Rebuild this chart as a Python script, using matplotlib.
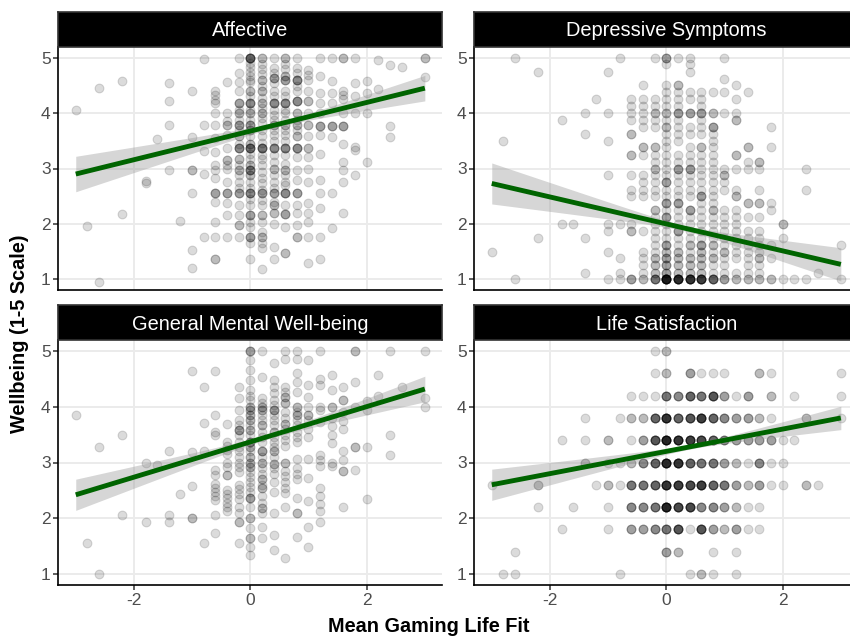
import matplotlib
matplotlib.use("Agg")
import numpy as np
import matplotlib.pyplot as plt

plt.rcParams['font.family'] = ['Liberation Sans', 'DejaVu Sans']

# ---------------- data ----------------
# columns: x value -> y values ("v*n" = n overlapping points)
affective_cols = {
    -3.0: "4.06", -2.8: "1.96", -2.6: "4.46 0.96", -2.2: "4.58 2.17",
    -1.8: "2.74 2.78", -1.6: "3.54", -1.4: "4.55 4.22 3.78 2.97", -1.2: "2.05",
    -1.0: "4.39 3.57 2.97*2 2.56 1.53 1.21",
    -0.8: "4.97 3.78 3.32 2.9 1.77",
    -0.6: "4.39 4.33 4.24 4.18 4.0 3.79 3.55 3.3 3.06 2.97 2.82 2.56*3 2.4 2.04 1.77 1.36*2",
    -0.4: "4.57 4.0 3.85 3.79*2 3.6 3.37 3.15*2 3.06 3.0 2.76 2.56*3 2.37 2.16 1.77",
    -0.2: "5.0 4.72 4.57 4.39 4.18*3 4.06 4.0*2 3.88 3.79*3 3.7 3.58*2 3.45 3.37*4 3.18*2 3.06 "
          "2.97*2 2.88 2.76 2.64 2.56*3 2.34 2.16 1.98*2 1.77",
    0.0: "5.0*6 4.9 4.84 4.75 4.67 4.6 4.57 4.39*2 4.3 4.18*4 4.06 4.0*2 3.88 3.79*3 3.7*2 3.58 "
         "3.45*2 3.37*5 3.27 3.18 3.06*2 2.97*4 2.88*2 2.76 2.64 2.56*4 2.45 2.34 2.16*3 2.04 1.95 "
         "1.77*3 1.65 1.36",
    0.2: "5.0*2 4.88 4.79 4.7 4.6*2 4.48 4.39*2 4.27 4.18*2 4.09 4.0*2 3.91 3.82 3.7 3.58 3.46 "
         "3.37*5 3.24 3.18 3.06 2.94 2.82 2.73 2.61 2.56*3 2.43 2.34 2.16*2 2.04 1.86 1.77*2 1.65 "
         "1.56 1.18",
    0.4: "5.0 4.82 4.73 4.63*3 4.54 4.39 4.3 4.18*4 4.06 3.97 3.88 3.79*2 3.7 3.61 3.49 3.37*4 "
         "3.24 3.12 3.0*2 2.88 2.76 2.64 2.56*3 2.4 2.34*2 2.19*2 2.0 1.59 1.36",
    0.6: "5.0*2 4.88 4.79 4.67*2 4.6*3 4.39 4.3 4.18*4 4.06 4.0 3.88 3.79*2 3.7 3.61 3.49 3.37*4 "
         "3.24 3.09 2.97*2 2.88 2.76 2.7 2.56*4 2.34 2.17*3 1.95 1.47*2",
    0.8: "5.0 4.82 4.73 4.6*4 4.48 4.39 4.21*4 4.0*2 3.88 3.79*2 3.7 3.58*2 3.37*4 3.21 2.97 "
         "2.79 2.56*3 2.34 2.19 1.98 1.77*2",
    1.0: "4.78 4.69 4.6 4.39 4.21*2 4.0 3.79*2 3.58 3.37*2 3.21 3.0 2.76 2.37 2.19 2.04 1.77 1.29",
    1.2: "5.0 4.67 4.37 4.18 4.0 3.77*3 3.6 3.26 2.79 2.56 2.28 1.77 1.36",
    1.4: "5.0 4.58 4.37 4.19 3.77*3 3.57 2.56 1.92",
    1.6: "5.0*2 4.4 4.33 4.26 4.0 3.77*3 3.45 3.12 2.97 2.76 2.2",
    1.8: "5.0 4.55 4.3 4.0 3.39 3.33 2.88",
    2.0: "4.58 4.37 4.0 3.12", 2.2: "4.95 4.43", 2.4: "4.87 3.77 3.57",
    2.6: "4.83", 3.0: "5.0*2 4.66",
}

depressive_cols = {
    -3.0: "1.5", -2.8: "3.5", -2.6: "5.0 1.0", -2.2: "4.75 1.75", -1.8: "3.88 2.0",
    -1.6: "2.0", -1.4: "4.0 3.62 1.75 1.12", -1.2: "4.25",
    -1.0: "4.75 4.0 3.5 2.88 2.0 1.88 1.5 1.0",
    -0.8: "5.0 2.0 1.38 1.12 1.0",
    -0.6: "4.25 4.12 4.0 3.88 3.62*2 3.25*2 2.88 2.62 2.5 2.0 1.88*2 1.0*3",
    -0.4: "4.5 4.25 4.12 4.0 3.88 3.75 3.38*2 3.25 2.88 2.75 2.62 2.5 1.88 1.5 1.38 1.25 1.12 1.0*2",
    -0.2: "5.0 4.25 4.12 4.0*2 3.88 3.75 3.38*2 3.25 3.12 3.0*2 2.88 2.75 2.62 2.5 2.25*2 2.12 2.0 "
          "1.88 1.75 1.62 1.5 1.38*2 1.25*2 1.12*2 1.0*5",
    0.0: "5.0*3 4.88 4.5 4.38 4.25 4.12 4.0*2 3.88 3.75*2 3.62 3.5 3.38 3.25 3.12 3.0 2.88 2.75*3 "
         "2.62 2.5 2.38*3 2.25 2.12*3 2.0 1.88 1.75 1.62*3 1.5*2 1.38*3 1.25*3 1.12*3 1.0*14",
    0.2: "5.0 4.5*2 4.38 4.25 4.12 4.0*3 3.88 3.75 3.62 3.5 3.25 3.12 3.0*3 2.88 2.75 2.62 2.5 "
         "2.38*3 2.25 2.12 2.0 1.88*3 1.75 1.62 1.5*2 1.38*2 1.25*2 1.12*2 1.0*11",
    0.4: "5.0 4.88 4.75 4.38 4.25 4.0*3 3.75 3.62 3.38 3.25 3.12 3.0*3 2.88 2.75 2.62 2.5 2.25*3 "
         "2.12 2.0 1.88 1.75 1.62*2 1.5 1.38*2 1.25*2 1.12*2 1.0*10",
    0.6: "4.38 4.25 4.12 4.0*3 3.88 3.75 3.62 3.38*2 3.25 3.12 3.0 2.88 2.75 2.62 2.5*3 2.38 2.25 "
         "2.12 2.0 1.88 1.75 1.62*3 1.5*2 1.38*2 1.25*2 1.12*2 1.0*9",
    0.8: "4.38 4.0*2 3.75*3 3.62 3.5 3.38 3.25 3.12 3.0 2.88 2.75 2.62 2.5 2.38 2.25*2 2.12 2.0 "
         "1.88 1.75 1.62*2 1.5 1.38*2 1.25 1.12 1.0*6",
    1.0: "5.0 4.62 4.38 4.0 3.0 2.88*2 2.75 2.62 2.25 2.12 2.0 1.88 1.75 1.62 1.5*2 1.38 1.25 1.12 1.0*3",
    1.2: "4.5 4.25 4.0 3.88*2 3.25*2 3.0 2.62 2.5*2 2.25 2.12 2.0 1.88 1.75 1.62 1.5 1.38 1.12 1.0*2",
    1.4: "4.38 3.38*2 3.12 3.0 2.38*2 2.12 1.88 1.75 1.62 1.5 1.38 1.25 1.12 1.0*2",
    1.6: "3.12*2 3.0 2.62 2.38*2 2.12 1.88 1.75 1.62 1.5 1.38*2 1.25 1.12 1.0*2",
    1.8: "3.75 3.38 2.38 2.25 1.62 1.38 1.0*2",
    2.0: "2.0*2 1.75 1.0", 2.2: "1.0", 2.4: "3.0 2.62 1.0", 2.6: "1.12", 3.0: "1.62 1.0",
}

general_cols = {
    -3.0: "3.85", -2.8: "1.56", -2.6: "3.28 1.0", -2.2: "3.49 2.06", -1.8: "3.0 1.93",
    -1.6: "2.96", -1.4: "3.21 2.06 1.93", -1.2: "2.43", -1.0: "4.64 3.18 2.57 2.0*2",
    -0.8: "4.36 3.71 3.21 1.56",
    -0.6: "4.64 3.85 3.55 3.49 2.86 2.78 2.62 2.55 2.47 2.4 2.33 2.06 1.73",
    -0.4: "3.7 3.37 3.3 3.22 3.15 3.0 2.92 2.78*2 2.5 2.43 2.36 2.28 2.2 2.13",
    -0.2: "4.36 4.15 3.94 3.76 3.67 3.58*3 3.49 3.37 3.28 3.2 3.1 3.0 2.92 2.83 2.6 2.52 2.43 "
          "2.35 2.2 2.1 1.94*2 1.55",
    0.0: "5.0*3 4.84 4.66 4.48 4.3 4.2 4.12 4.0*2 3.94*2 3.85*2 3.76*2 3.67 3.58*2 3.49 3.37*3 "
         "3.28*2 3.2 3.1*2 3.0*2 2.92*2 2.83 2.74 2.65 2.56 2.47 2.36*3 2.2 2.0*2 1.82 1.64*2 1.49 1.34",
    0.2: "5.0 4.54 4.15 4.06 4.0*2 3.94*2 3.85 3.76 3.67*2 3.55 3.46 3.37 3.2*3 3.1 3.0*2 2.9 2.8 "
         "2.7*2 2.6 2.54*2 2.4 2.28 2.18*2 2.1 1.85 1.64",
    0.4: "4.78 4.48 4.36 4.24 4.12 4.03 3.94*3 3.85 3.76 3.67 3.55*2 3.46 3.37 3.28 3.2*2 3.1 "
         "2.98*2 2.9 2.8 2.65 2.47 2.09 1.7 1.43",
    0.6: "5.0 4.86 4.36 4.27 4.18*2 4.06*2 3.9 3.8 3.7*2 3.6 3.5 3.4 3.3 3.0*2 2.85 2.75 2.65 2.55 "
         "2.45 2.2 1.28",
    0.8: "5.0 4.86 4.6 4.45 4.27 4.0*2 3.9 3.85*2 3.76 3.67 3.55 3.46 3.37 3.07 2.9 2.8 2.7 2.36 "
         "2.09*2 1.67",
    1.0: "4.84 4.39 4.18 4.0 3.85*2 3.76 3.6 3.46 3.07 2.72 2.3 1.85 1.49",
    1.2: "5.0 4.5 4.4 4.0 3.94 3.73 3.13 3.05 2.93 2.55 2.4 2.25 2.13 1.93",
    1.4: "4.57 4.3 4.0*2 3.8 3.65 3.5 3.35 3.0 2.93",
    1.6: "4.36 4.12*2 3.9 3.75 3.6 3.2 3.05 2.84*2 2.2",
    1.8: "5.0*2 4.45 4.0 3.28*2 2.86",
    2.0: "4.1 3.95 3.28 2.35", 2.2: "4.57 4.2", 2.4: "5.0 3.49 3.13", 2.6: "4.36",
    3.0: "5.0 4.15 4.0",
}

# rows: y value -> x values ("v*n" = n overlapping points)
life_rows = {
    5.0: "-0.2 0.0*2",
    4.6: "-0.2 0.0*2 0.4*3 0.6 0.8 1.0 1.6*2 1.8 3.0",
    4.2: "-0.6 -0.4 -0.2 0.0*5 0.2*4 0.4*6 0.6*5 0.8*7 1.0*3 1.2 1.4*3 1.8*2 2.2 3.0",
    3.8: "-1.4 -0.8 -0.6*2 -0.4*2 -0.2*6 0.0*10 0.2*6 0.4*7 0.6*9 0.8*6 1.0*4 1.2*3 1.4*3 1.6*2 "
         "1.8 2.4*2 3.0",
    3.4: "-1.8 -1.4 -1.0*2 -0.6 -0.4*3 -0.2*7 0.0*12 0.2*10 0.4*9 0.6*8 0.8*6 1.0*4 1.2*3 1.4*3 "
         "1.6*3 1.8*3 2.0 2.2",
    3.0: "-1.4*2 -1.0 -0.8 -0.6*2 -0.4*4 -0.2*6 0.0*11 0.2*10 0.4*6 0.6*5 0.8*5 1.0*3 1.2*2 1.4 "
         "1.6*4 1.8 2.0",
    2.6: "-3.0 -2.2*2 -1.2 -1.0*2 -0.8 -0.6*5 -0.4*5 -0.2*6 0.0*10 0.2*9 0.4*8 0.6*9 0.8*6 1.0*5 "
         "1.2*3 1.4*2 1.6*3 1.8 2.0 2.4*2 2.6",
    2.2: "-2.2 -1.6 -1.0 -0.6*4 -0.4*4 -0.2*5 0.0*12 0.2*8 0.4*8 0.6*4 0.8*4 1.0*3 1.2*2 1.4 1.6",
    1.8: "-1.8 -1.0 -0.6*3 -0.4*3 -0.2*4 0.0*5 0.2*7 0.4 0.6*7 0.8*3 1.0*2 1.2*3 1.4 1.6",
    1.4: "-2.6 0.0*3 0.2*2 0.8 1.2",
    1.0: "-2.8 -2.6 -0.8 0.4 0.6*2 0.8 1.2",
}

panel_titles = ["Affective", "Depressive Symptoms", "General Mental Well-being", "Life Satisfaction"]
# fitted line: y at x = -3 and x = 3 ; CI half-widths at left end, right end, narrowest
fit_x = [-3.0, 3.0]
fit_y = {"Affective": [2.90, 4.45], "Depressive Symptoms": [2.73, 1.27],
         "General Mental Well-being": [2.42, 4.32], "Life Satisfaction": [2.60, 3.80]}
ci_half = {"Affective": [0.32, 0.23, 0.045], "Depressive Symptoms": [0.37, 0.30, 0.05],
           "General Mental Well-being": [0.28, 0.23, 0.045], "Life Satisfaction": [0.28, 0.21, 0.04]}

x_ticks = [-2, 0, 2]
y_ticks = [1, 2, 3, 4, 5]


def parse(tok):
    if "*" in tok:
        v, n = tok.split("*")
        return float(v), int(n)
    return float(tok), 1


def expand_cols(cols):
    xs, ys = [], []
    for x, s in cols.items():
        for tok in s.split():
            v, n = parse(tok)
            xs += [x] * n
            ys += [v] * n
    return np.array(xs), np.array(ys)


def expand_rows(rows):
    xs, ys = [], []
    for y, s in rows.items():
        for tok in s.split():
            v, n = parse(tok)
            xs += [v] * n
            ys += [y] * n
    return np.array(xs), np.array(ys)


points = {
    "Affective": expand_cols(affective_cols),
    "Depressive Symptoms": expand_cols(depressive_cols),
    "General Mental Well-being": expand_cols(general_cols),
    "Life Satisfaction": expand_rows(life_rows),
}

# ---------------- layout ----------------
W, H = 850, 637
fig = plt.figure(figsize=(W / 100, H / 100), dpi=100)

panel_w = 384
lefts = [58.3, 474.3]
rows_px = [(11.7, 46.6, 290.4), (305.0, 340.0, 585.0)]  # strip top, panel top, panel bottom


def fx(px):
    return px / W


def fy(py):
    return 1 - py / H


grid_col = "#EBEBEB"
for i, name in enumerate(panel_titles):
    r, c = divmod(i, 2)
    st, pt, pb = rows_px[r]
    l = lefts[c]
    ax = fig.add_axes([fx(l), fy(pb), fx(panel_w), (pb - pt) / H])
    sax = fig.add_axes([fx(l), fy(pt), fx(panel_w), (pt - st) / H])

    ax.set_xlim(-3.3, 3.3)
    ax.set_ylim(0.8, 5.2)
    ax.set_xticks(x_ticks)
    ax.set_yticks(y_ticks)
    ax.grid(True, color=grid_col, linewidth=1.4, zorder=0)
    ax.set_axisbelow(True)
    for sp in ["top", "right"]:
        ax.spines[sp].set_visible(False)
    for sp in ["left", "bottom"]:
        ax.spines[sp].set_color("black")
        ax.spines[sp].set_linewidth(1.2)
    ax.tick_params(axis="y", length=3.5, width=1.1, color="#333333",
                   labelsize=12.5, labelcolor="#4D4D4D", pad=2)
    if r == 1:
        ax.tick_params(axis="x", length=3.5, width=1.1, color="#333333",
                       labelsize=12.5, labelcolor="#4D4D4D", pad=2.5)
        ax.set_xticklabels([str(t) for t in x_ticks])
    else:
        ax.tick_params(axis="x", length=0, labelbottom=False)

    xs, ys = points[name]
    ax.scatter(xs, ys, s=40, facecolor=(0, 0, 0, 0.14), edgecolor=(0, 0, 0, 0.14),
               linewidth=0.8, zorder=2, clip_on=False)

    # regression line with confidence band
    y0, y1 = fit_y[name]
    hl, hr, h0 = ci_half[name]
    xl, xr = fit_x
    rr = np.sqrt((hl ** 2 - h0 ** 2) / (hr ** 2 - h0 ** 2))
    x0 = (xl + rr * xr) / (1 + rr)
    k = (hl ** 2 - h0 ** 2) / (x0 - xl) ** 2
    xx = np.linspace(xl, xr, 200)
    yy = y0 + (y1 - y0) * (xx - xl) / (xr - xl)
    hw = np.sqrt(h0 ** 2 + k * (xx - x0) ** 2)
    ax.fill_between(xx, yy - hw, yy + hw, color="#999999", alpha=0.4, linewidth=0, zorder=3)
    ax.plot(fit_x, fit_y[name], color="#006400", linewidth=3.5, solid_capstyle="butt", zorder=4)

    # strip
    sax.set_facecolor("black")
    sax.set_xticks([])
    sax.set_yticks([])
    for sp in sax.spines.values():
        sp.set_color("#333333")
        sp.set_linewidth(1.2)
    sax.text(0.5, 0.29, name, color="white", fontsize=14.4, ha="center", va="baseline",
             transform=sax.transAxes)

fig.text(fx(428.5), fy(627), "Mean Gaming Life Fit", fontsize=14.3, fontweight="bold",
         ha="center", va="center")
fig.text(fx(20), fy(334), "Wellbeing (1-5 Scale)", fontsize=14.3, fontweight="bold",
         ha="center", va="center", rotation=90)

fig.savefig("out.png", dpi=100)
